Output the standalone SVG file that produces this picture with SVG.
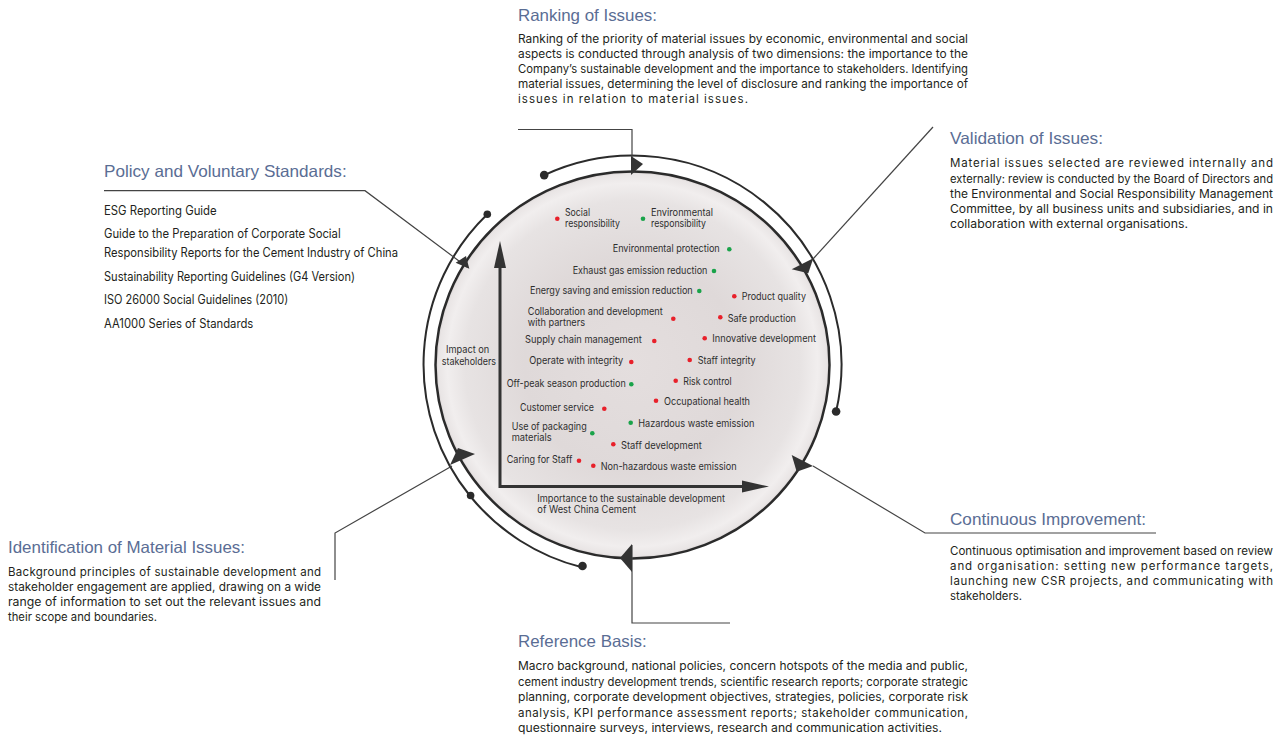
<svg xmlns="http://www.w3.org/2000/svg" width="1284" height="740" viewBox="0 0 1284 740">
<defs>
<radialGradient id="disc" cx="50%" cy="50%" r="50%">
<stop offset="0" stop-color="#e4dede"/>
<stop offset="0.55" stop-color="#dfd9d9"/>
<stop offset="0.85" stop-color="#e7e3e3"/>
<stop offset="0.94" stop-color="#f1eeee"/>
<stop offset="0.985" stop-color="#e9e5e5"/>
<stop offset="1" stop-color="#d6d1d1"/>
</radialGradient>
<style>
.h{font-family:"Liberation Sans",Arial,sans-serif;font-size:16.5px;fill:#5a6d94}
.b{font-family:Inter,"Liberation Sans",Arial,sans-serif;font-size:11.5px;fill:#231f20}
.l{font-family:Inter,"Liberation Sans",Arial,sans-serif;font-size:12.5px;fill:#231f20}
.c{font-family:Inter,"Liberation Sans",Arial,sans-serif;font-size:10.5px;fill:#2e2e2e}
.c2{font-family:Inter,"Liberation Sans",Arial,sans-serif;font-size:10px;fill:#2e2e2e}
.ring{fill:none;stroke:#2b2b2b;stroke-width:2}
.conn{fill:none;stroke:#444;stroke-width:1.2}
.ah{fill:#333}
.dot{fill:#2b2b2b}
.r{fill:#e8202a}
.g{fill:#1aa34a}
</style>
</defs>
<rect width="1284" height="740" fill="#ffffff"/>

<g id="cycle">
<ellipse cx="632.5" cy="365" rx="197" ry="193.5" fill="url(#disc)" stroke="#2b2b2b" stroke-width="2.5"/>
<path class="ring" d="M544.2 175.1 A209 209 0 0 1 836.1 411.5"/>
<path class="ring" d="M487.3 214.2 A209 209 0 0 0 470.1 496"/>
<path class="ring" d="M581.9 567.3 A209 209 0 0 1 470.1 496"/>
<circle class="dot" cx="544.2" cy="175.1" r="4.3"/>
<circle class="dot" cx="836.1" cy="411.5" r="4.3"/>
<circle class="dot" cx="487.3" cy="214.2" r="3.8"/>
<circle class="dot" cx="470.6" cy="495.5" r="3.8"/>
<circle class="dot" cx="582.5" cy="566" r="4.3"/>
</g>

<g id="connectors">
<polyline class="conn" points="518,129.5 632,129.5 632,170"/>
<polyline class="conn" points="933,127 813,259"/>
<polyline class="conn" points="104,190.7 365,190.7 467,267"/>
<polyline class="conn" points="335,580 335,533 452,466"/>
<polyline class="conn" points="1156,533 925,533 813,466"/>
<polyline class="conn" points="730,623 632,623 632,545"/>
<polygon class="ah" points="631,156 643,164 631,175"/>
<polygon class="ah" points="791.7,269.3 813.3,258.3 808.3,273.3"/>
<polygon class="ah" points="455.7,262.7 466,256 469.3,268.7"/>
<polygon class="ah" points="450,465 458,448 475,454"/>
<polygon class="ah" points="791.7,455 813,466 796.7,471.7"/>
<polygon class="ah" points="632,544 620,558 632,572"/>
</g>

<g id="matrix">
<path d="M500 264 V486.5 H745" fill="none" stroke="#333" stroke-width="3"/>
<polygon class="ah" points="500,241 506,268 494,268"/>
<polygon class="ah" points="769,486.5 742,480.5 742,492.5"/>
<text class="c" x="446" y="352.6" textLength="43.3" lengthAdjust="spacingAndGlyphs">Impact on</text>
<text class="c" x="441.7" y="365.3" textLength="54.3" lengthAdjust="spacingAndGlyphs">stakeholders</text>
<text class="c2" x="537.3" y="501.8" textLength="187.7" lengthAdjust="spacingAndGlyphs">Importance to the sustainable development</text>
<text class="c2" x="537.3" y="512.8" textLength="98.7" lengthAdjust="spacingAndGlyphs">of West China Cement</text>

<circle class="r" cx="557.3" cy="218.7" r="2.3"/>
<text class="c" x="565" y="216.3" textLength="25" lengthAdjust="spacingAndGlyphs">Social</text>
<text class="c" x="565" y="227" textLength="55" lengthAdjust="spacingAndGlyphs">responsibility</text>
<circle class="g" cx="643" cy="218.7" r="2.3"/>
<text class="c" x="651" y="216.3" textLength="62" lengthAdjust="spacingAndGlyphs">Environmental</text>
<text class="c" x="651" y="227" textLength="55" lengthAdjust="spacingAndGlyphs">responsibility</text>

<text class="c" x="612.7" y="252.3" textLength="107" lengthAdjust="spacingAndGlyphs">Environmental protection</text>
<circle class="g" cx="729.3" cy="249.3" r="2.3"/>
<text class="c" x="572.7" y="274.3" textLength="134.7" lengthAdjust="spacingAndGlyphs">Exhaust gas emission reduction</text>
<circle class="g" cx="714" cy="271" r="2.3"/>
<text class="c" x="530" y="294.3" textLength="162.7" lengthAdjust="spacingAndGlyphs">Energy saving and emission reduction</text>
<circle class="g" cx="699.3" cy="291" r="2.3"/>
<circle class="r" cx="734.3" cy="296.3" r="2.3"/>
<text class="c" x="741.7" y="300" textLength="64.3" lengthAdjust="spacingAndGlyphs">Product quality</text>
<text class="c" x="527.7" y="315.3" textLength="135" lengthAdjust="spacingAndGlyphs">Collaboration and development</text>
<text class="c" x="527.7" y="326" textLength="57.3" lengthAdjust="spacingAndGlyphs">with partners</text>
<circle class="r" cx="673.3" cy="318.7" r="2.3"/>
<circle class="r" cx="720.3" cy="317.3" r="2.3"/>
<text class="c" x="727.7" y="322" textLength="68.3" lengthAdjust="spacingAndGlyphs">Safe production</text>
<text class="c" x="525" y="343" textLength="116.7" lengthAdjust="spacingAndGlyphs">Supply chain management</text>
<circle class="r" cx="654.3" cy="341" r="2.3"/>
<circle class="r" cx="704.7" cy="338.3" r="2.3"/>
<text class="c" x="712.3" y="342" textLength="103.7" lengthAdjust="spacingAndGlyphs">Innovative development</text>
<text class="c" x="529.3" y="364.3" textLength="94" lengthAdjust="spacingAndGlyphs">Operate with integrity</text>
<circle class="r" cx="631.3" cy="362" r="2.3"/>
<circle class="r" cx="689.7" cy="360" r="2.3"/>
<text class="c" x="697.7" y="363.6" textLength="58" lengthAdjust="spacingAndGlyphs">Staff integrity</text>
<text class="c" x="506.7" y="387" textLength="119" lengthAdjust="spacingAndGlyphs">Off-peak season production</text>
<circle class="g" cx="631.3" cy="384.3" r="2.3"/>
<circle class="r" cx="675.7" cy="380.7" r="2.3"/>
<text class="c" x="683.3" y="385.3" textLength="48.4" lengthAdjust="spacingAndGlyphs">Risk control</text>
<circle class="r" cx="656" cy="400.7" r="2.3"/>
<text class="c" x="664" y="405.3" textLength="86" lengthAdjust="spacingAndGlyphs">Occupational health</text>
<text class="c" x="520" y="411" textLength="74" lengthAdjust="spacingAndGlyphs">Customer service</text>
<circle class="r" cx="604.3" cy="408.7" r="2.3"/>
<circle class="g" cx="630.7" cy="422.7" r="2.3"/>
<text class="c" x="638.3" y="427.3" textLength="116" lengthAdjust="spacingAndGlyphs">Hazardous waste emission</text>
<text class="c" x="511.7" y="429.8" textLength="75" lengthAdjust="spacingAndGlyphs">Use of packaging</text>
<text class="c" x="511.7" y="440.6" textLength="40" lengthAdjust="spacingAndGlyphs">materials</text>
<circle class="g" cx="592.3" cy="433.3" r="2.3"/>
<circle class="r" cx="613.3" cy="444.3" r="2.3"/>
<text class="c" x="621" y="449" textLength="80.7" lengthAdjust="spacingAndGlyphs">Staff development</text>
<text class="c" x="506.7" y="463" textLength="65.6" lengthAdjust="spacingAndGlyphs">Caring for Staff</text>
<circle class="r" cx="579" cy="460.7" r="2.3"/>
<circle class="r" cx="593.3" cy="465.7" r="2.3"/>
<text class="c" x="600.7" y="470.3" textLength="136" lengthAdjust="spacingAndGlyphs">Non-hazardous waste emission</text>
</g>

<g id="ranking">
<text class="h" x="518" y="21" textLength="139" lengthAdjust="spacingAndGlyphs">Ranking of Issues:</text>
<text class="b" x="518" y="42.5" textLength="450" lengthAdjust="spacingAndGlyphs">Ranking of the priority of material issues by economic, environmental and social</text>
<text class="b" x="518" y="57.5" textLength="450" lengthAdjust="spacingAndGlyphs">aspects is conducted through analysis of two dimensions: the importance to the</text>
<text class="b" x="518" y="72.5" textLength="450" lengthAdjust="spacingAndGlyphs">Company’s sustainable development and the importance to stakeholders. Identifying</text>
<text class="b" x="518" y="87.5" textLength="450" lengthAdjust="spacingAndGlyphs">material issues, determining the level of disclosure and ranking the importance of</text>
<text class="b" x="518" y="102.5" textLength="230" lengthAdjust="spacing">issues in relation to material issues.</text>
</g>

<g id="validation">
<text class="h" x="950" y="143.5" textLength="153" lengthAdjust="spacingAndGlyphs">Validation of Issues:</text>
<text class="b" x="950" y="167.3" textLength="323" lengthAdjust="spacing">Material issues selected are reviewed internally and</text>
<text class="b" x="950" y="182.5" textLength="323" lengthAdjust="spacingAndGlyphs">externally: review is conducted by the Board of Directors and</text>
<text class="b" x="950" y="197.5" textLength="323" lengthAdjust="spacingAndGlyphs">the Environmental and Social Responsibility Management</text>
<text class="b" x="950" y="212.5" textLength="323" lengthAdjust="spacingAndGlyphs">Committee, by all business units and subsidiaries, and in</text>
<text class="b" x="950" y="227.5" textLength="238" lengthAdjust="spacingAndGlyphs">collaboration with external organisations.</text>
</g>

<g id="policy">
<text class="h" x="104" y="177" textLength="242.7" lengthAdjust="spacingAndGlyphs">Policy and Voluntary Standards:</text>
<text class="l" x="104" y="215" textLength="112.7" lengthAdjust="spacingAndGlyphs">ESG Reporting Guide</text>
<text class="l" x="104" y="237.5" textLength="236.7" lengthAdjust="spacingAndGlyphs">Guide to the Preparation of Corporate Social</text>
<text class="l" x="104" y="257" textLength="294" lengthAdjust="spacingAndGlyphs">Responsibility Reports for the Cement Industry of China</text>
<text class="l" x="104" y="281" textLength="251" lengthAdjust="spacingAndGlyphs">Sustainability Reporting Guidelines (G4 Version)</text>
<text class="l" x="104" y="304" textLength="184.3" lengthAdjust="spacingAndGlyphs">ISO 26000 Social Guidelines (2010)</text>
<text class="l" x="104" y="327.5" textLength="149.3" lengthAdjust="spacingAndGlyphs">AA1000 Series of Standards</text>
</g>

<g id="identification">
<text class="h" x="8" y="552.5" textLength="237" lengthAdjust="spacingAndGlyphs">Identification of Material Issues:</text>
<text class="b" x="8" y="576" textLength="313" lengthAdjust="spacing">Background principles of sustainable development and</text>
<text class="b" x="8" y="591" textLength="313" lengthAdjust="spacingAndGlyphs">stakeholder engagement are applied, drawing on a wide</text>
<text class="b" x="8" y="606" textLength="313" lengthAdjust="spacingAndGlyphs">range of information to set out the relevant issues and</text>
<text class="b" x="8" y="621" textLength="149" lengthAdjust="spacingAndGlyphs">their scope and boundaries.</text>
</g>

<g id="improvement">
<text class="h" x="950" y="525" textLength="196" lengthAdjust="spacingAndGlyphs">Continuous Improvement:</text>
<text class="b" x="950" y="555" textLength="323" lengthAdjust="spacingAndGlyphs">Continuous optimisation and improvement based on review</text>
<text class="b" x="950" y="570" textLength="323" lengthAdjust="spacing">and organisation: setting new performance targets,</text>
<text class="b" x="950" y="585" textLength="323" lengthAdjust="spacing">launching new CSR projects, and communicating with</text>
<text class="b" x="950" y="600" textLength="72" lengthAdjust="spacingAndGlyphs">stakeholders.</text>
</g>

<g id="reference">
<text class="h" x="518" y="646.5" textLength="128.7" lengthAdjust="spacingAndGlyphs">Reference Basis:</text>
<text class="b" x="518" y="670" textLength="450" lengthAdjust="spacingAndGlyphs">Macro background, national policies, concern hotspots of the media and public,</text>
<text class="b" x="518" y="685.5" textLength="450" lengthAdjust="spacingAndGlyphs">cement industry development trends, scientific research reports; corporate strategic</text>
<text class="b" x="518" y="701" textLength="450" lengthAdjust="spacingAndGlyphs">planning, corporate development objectives, strategies, policies, corporate risk</text>
<text class="b" x="518" y="716.5" textLength="450" lengthAdjust="spacing">analysis, KPI performance assessment reports; stakeholder communication,</text>
<text class="b" x="518" y="732" textLength="424" lengthAdjust="spacingAndGlyphs">questionnaire surveys, interviews, research and communication activities.</text>
</g>
</svg>
